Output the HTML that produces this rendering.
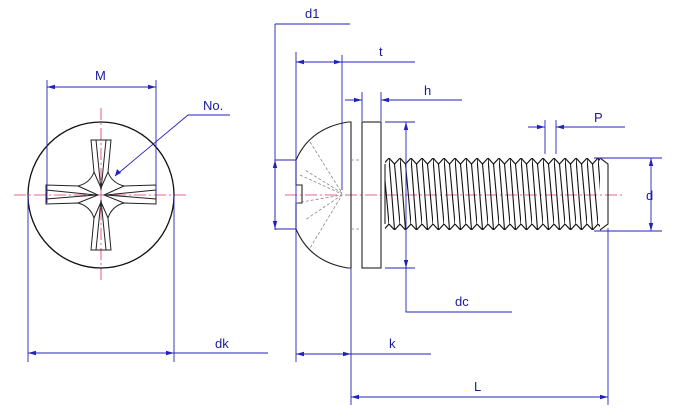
<!DOCTYPE html>
<html><head><meta charset="utf-8"><style>
html,body{margin:0;padding:0;background:#fff}
svg{display:block}
text{font-family:"Liberation Sans",sans-serif;font-size:13px;fill:#1a1aa0}
</style></head><body>
<svg width="685" height="418" viewBox="0 0 685 418" xmlns="http://www.w3.org/2000/svg">
<defs>
<marker id="a" markerWidth="8" markerHeight="6" refX="8" refY="3" orient="auto-start-reverse" markerUnits="userSpaceOnUse"><path d="M0,0.8 L8,3 L0,5.2z" fill="#2222bb"/></marker>
<pattern id="th" patternUnits="userSpaceOnUse" x="389" y="0" width="11" height="418">
<g fill="none" stroke="#111" stroke-width="1.1">
<polyline points="0,158 5.5,164 11,158"/>
<polyline points="0,224 5.5,230 11,224"/>
<line x1="0" y1="158" x2="5.5" y2="230"/>
<line x1="5.5" y1="164" x2="11" y2="224"/>
</g></pattern>
</defs>
<g stroke="#e0307a" stroke-width="0.8" stroke-dasharray="12,3,2,3" fill="none">
<line x1="14" y1="195" x2="188" y2="195"/>
<line x1="101" y1="108" x2="101" y2="282"/>
<line x1="285" y1="195" x2="622" y2="195"/>
</g>
<circle cx="101" cy="195" r="73" fill="none" stroke="#111" stroke-width="1.3"/>
<g fill="none" stroke="#222" stroke-width="1">
<path d="M91,140 L111,140 L108,172 Q112,183 124,186 L156,185 L156,204 L124,203 Q112,206 108,218 L111,250 L91,250 L94,218 Q90,206 78,203 L46,204 L46,185 L78,186 Q90,183 94,172 Z"/>
<path d="M96,140 L101,190 L106,140 M46,190 L96,195 L46,199 M156,190 L106,195 L156,199 M96,250 L101,200 L106,250"/>
<path d="M94,172 L101,188 L108,172 M78,186 L98,195 L78,203 M124,186 L104,195 L124,203 M94,218 L101,202 L108,218"/>
</g>
<g stroke="#2222bb" stroke-width="0.9" fill="none">
<line x1="47" y1="80" x2="47" y2="203"/>
<line x1="156" y1="80" x2="156" y2="196"/>
<line x1="47" y1="87" x2="156" y2="87" marker-start="url(#a)" marker-end="url(#a)"/>
<polyline points="230,115 188,115 115,176" />
<line x1="28" y1="195" x2="28" y2="362"/>
<line x1="174" y1="195" x2="174" y2="362"/>
<line x1="28" y1="353" x2="174" y2="353" marker-start="url(#a)" marker-end="url(#a)"/>
<line x1="174" y1="353" x2="268" y2="353"/>
</g>
<path d="M115,176 l2,-7 l4,4z" fill="#2222bb"/>
<text x="95" y="80">M</text>
<text x="203" y="110">No.</text>
<text x="215" y="348">dk</text>
<g fill="none" stroke="#222" stroke-width="1.1">
<path d="M351,122 L348,122 Q310,128 296,160 L296,185 L302,185 L302,203 L296,203 L296,229 Q310,262 348,268 L351,268 Z"/>
<rect x="362" y="122" width="19" height="146"/>
<rect x="385" y="158" width="215" height="72" fill="url(#th)" stroke="none"/>
<path d="M385,164 L385,224 M600,158 L608,164 L608,224 L600,230"/>
</g>
<g fill="none" stroke="#888" stroke-width="0.8" stroke-dasharray="3,2">
<path d="M310,142 L342,193 L305,170 M296,203 L342,195 L310,248 M342,195 L305,220 M300,175 L342,194 M351,160 L362,160 M351,229 L362,229"/>
</g>
<g stroke="#2222bb" stroke-width="0.9" fill="none">
<line x1="275" y1="24" x2="350" y2="24"/>
<line x1="275" y1="24" x2="275" y2="230"/>
<line x1="275" y1="160" x2="275" y2="229" marker-start="url(#a)" marker-end="url(#a)"/>
<line x1="275" y1="160" x2="296" y2="160"/><line x1="275" y1="229" x2="296" y2="229"/>
<line x1="296" y1="52" x2="296" y2="362"/>
<line x1="342" y1="55" x2="342" y2="190"/>
<line x1="296" y1="62" x2="342" y2="62" marker-start="url(#a)" marker-end="url(#a)"/>
<line x1="342" y1="62" x2="415" y2="62"/>
<line x1="362" y1="92" x2="362" y2="121"/>
<line x1="381" y1="92" x2="381" y2="121"/>
<line x1="345" y1="100" x2="362" y2="100" marker-end="url(#a)"/>
<line x1="462" y1="100" x2="381" y2="100" marker-end="url(#a)"/>
<line x1="385" y1="122" x2="415" y2="122"/>
<line x1="385" y1="268" x2="415" y2="268"/>
<line x1="406" y1="122" x2="406" y2="268" marker-start="url(#a)" marker-end="url(#a)"/>
<polyline points="406,268 406,312 512,312"/>
<line x1="351" y1="268" x2="351" y2="405"/>
<line x1="296" y1="354" x2="351" y2="354" marker-start="url(#a)" marker-end="url(#a)"/>
<line x1="351" y1="354" x2="431" y2="354"/>
<line x1="608" y1="228" x2="608" y2="405"/>
<line x1="351" y1="397" x2="608" y2="397" marker-start="url(#a)" marker-end="url(#a)"/>
<line x1="594" y1="158" x2="662" y2="158"/>
<line x1="594" y1="231" x2="662" y2="231"/>
<line x1="651" y1="158" x2="651" y2="231" marker-start="url(#a)" marker-end="url(#a)"/>
<line x1="545" y1="120" x2="545" y2="154"/>
<line x1="556" y1="120" x2="556" y2="154"/>
<line x1="528" y1="127" x2="545" y2="127" marker-end="url(#a)"/>
<line x1="625" y1="127" x2="556" y2="127" marker-end="url(#a)"/>
</g>
<text x="305" y="18">d1</text>
<text x="379" y="56">t</text>
<text x="424" y="95">h</text>
<text x="455" y="306">dc</text>
<text x="389" y="348">k</text>
<text x="474" y="391">L</text>
<text x="646" y="200">d</text>
<text x="594" y="122">P</text>
</svg>
</body></html>
